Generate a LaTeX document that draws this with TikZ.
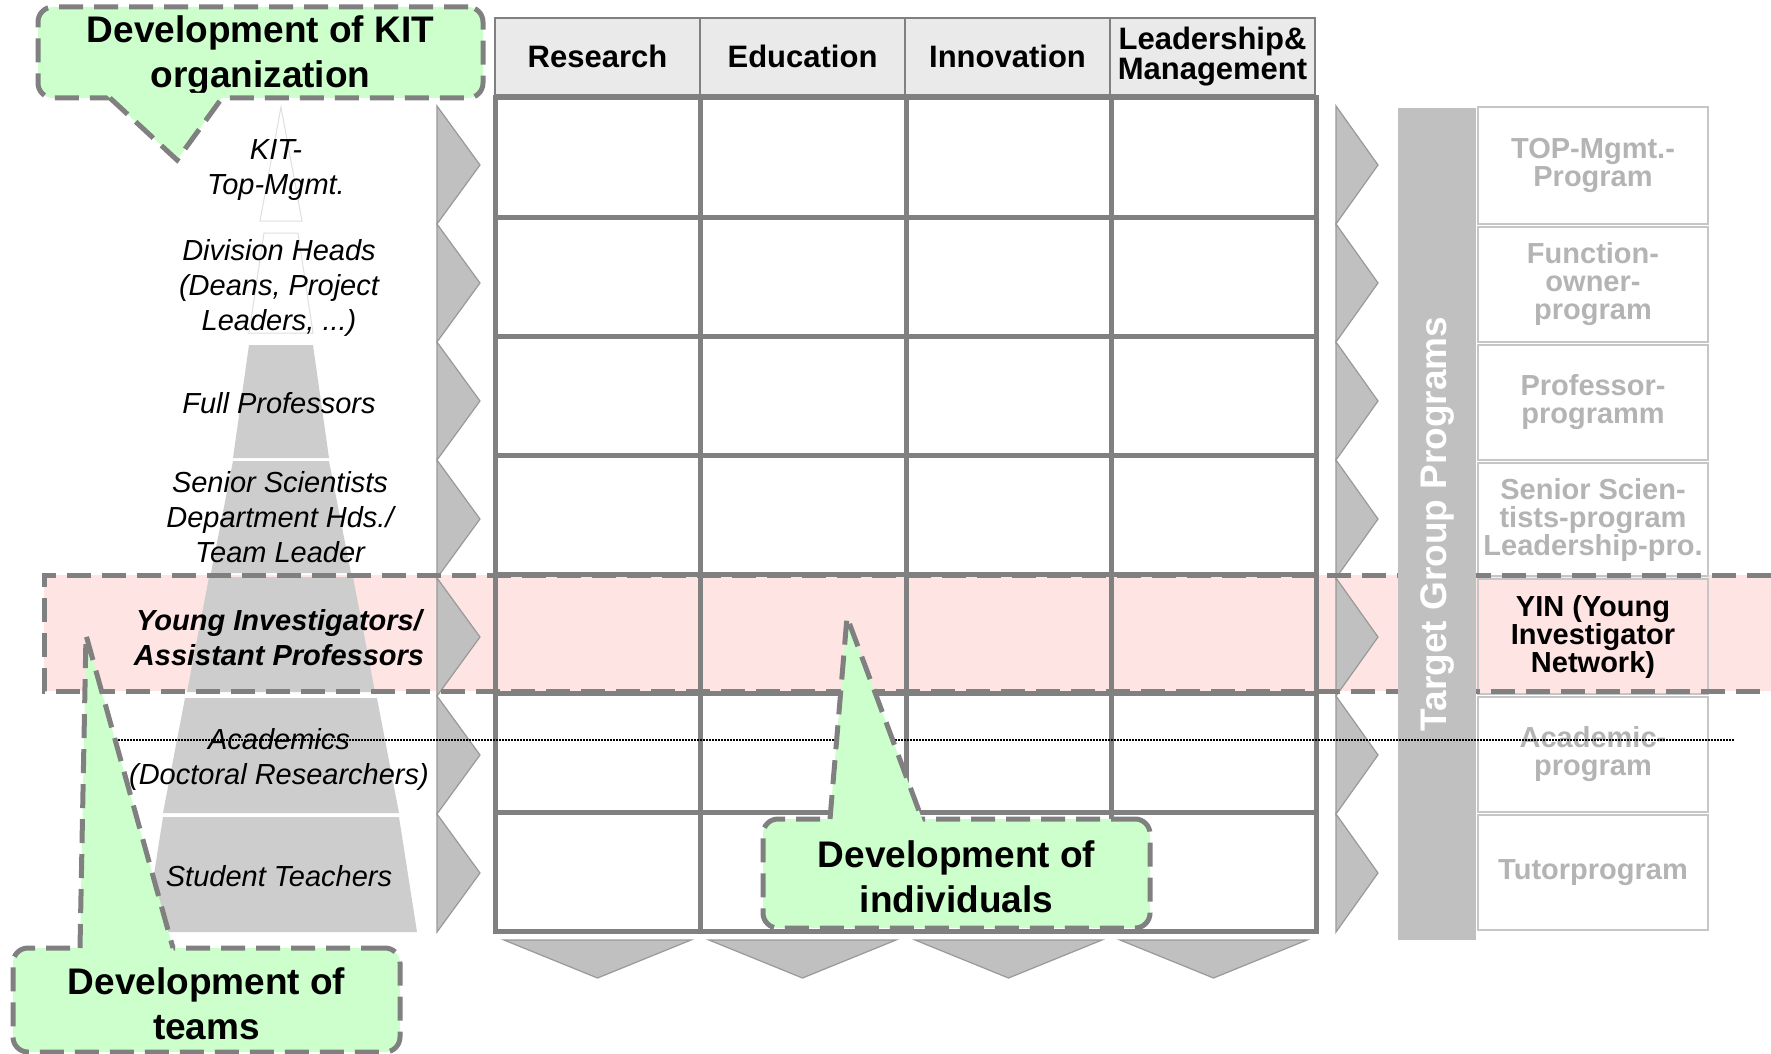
\documentclass[tikz,border=0pt]{standalone}
\usepackage{fontspec}
\setmainfont{Liberation Sans}
\usepackage{tikz}
\usetikzlibrary{positioning}

\definecolor{callgreen}{HTML}{CCFFCC}
\definecolor{bandpink}{HTML}{FFE4E4}
\definecolor{linegray}{HTML}{808080}
\definecolor{chevgray}{HTML}{C0C0C0}
\definecolor{pyrgray}{HTML}{CDCDCD}
\definecolor{progtext}{HTML}{B4B4B4}
\definecolor{headfill}{HTML}{EAEAEA}

\tikzset{
  every node/.style={inner sep=0pt, outer sep=0pt},
  gridline/.style={draw=linegray, line width=5pt},
  headcell/.style={draw=linegray, line width=1.5pt, fill=headfill,
    minimum width=205pt, minimum height=77pt, align=center,
    font=\fontsize{31}{30}\selectfont\bfseries},
  levellabel/.style={align=center, font=\fontsize{29}{35}\selectfont\itshape},
  chevtri/.style={fill=chevgray, draw=linegray!80, line width=1.2pt},
  progbox/.style={draw=gray!45, line width=2pt, fill=white,
    minimum width=230pt, minimum height=115pt, align=center, text=progtext,
    font=\fontsize{29}{28}\selectfont\bfseries},
  devbox/.style={draw=linegray, fill=callgreen, line width=5pt,
    dash pattern=on 24pt off 11pt, rounded corners=15pt, align=center,
    text depth=10pt, font=\fontsize{37}{45}\selectfont\bfseries},
  pointer/.style={draw=linegray, line width=5pt, dash pattern=on 24pt off 11pt},
  pyrtop/.style={draw=gray!25, line width=1pt, fill=white}
}

\begin{document}
\begin{tikzpicture}[x=1pt, y=-1pt]
\path [use as bounding box, fill=white] (0,0) rectangle (1771,1054);

% young investigator band
\fill [bandpink] (44,575) rectangle (1771,691);

% pyramid of levels
\draw [pyrtop] (281,107) -- (302,221) -- (260,221) -- cycle;
\draw [pyrtop] (264,233) -- (298,233) -- (313,333) -- (249,333) -- cycle;
\foreach \ya/\yb/\wa/\wb in {345/458/32/48, 461/573/48/70, 577/692/72/94, 698/813/96/118, 817/932/118/136}
  \fill [pyrgray] ({281-\wa},\ya) -- ({281+\wa},\ya) -- ({281+\wb},\yb) -- ({281-\wb},\yb) -- cycle;

\node [levellabel] (kitlvl) at (276,170) {KIT-\\Top-Mgmt.};
\node [levellabel] (divlvl) at (279,288) {Division Heads\\(Deans, Project\\Leaders, ...)};
\node [levellabel] (fulllvl) at (279,403) {Full Professors};
\node [levellabel] (seniorlvl) at (280,517) {Senior Scientists\\Department Hds./\\Team Leader};
\node [levellabel, font=\fontsize{29}{35}\selectfont\bfseries\itshape] (younglvl) at (279,638) {Young Investigators/\\Assistant Professors};
\node [levellabel] (acadlvl) at (279,759) {Academics\\(Doctoral Researchers)};
\node [levellabel] (studlvl) at (279,876) {Student Teachers};

% matrix
\foreach \r in {1,...,6}
  \draw [gridline] (495,{98+119*\r}) -- (1316,{98+119*\r});
\foreach \c in {700,906,1111}
  \draw [gridline] (\c,98) -- (\c,931);
\draw [gridline] (495,98) rectangle (1316,931);

\node [headcell] (research) at (597.5,56.5) {Research};
\node [headcell, right=0pt of research] (education) {Education};
\node [headcell, right=0pt of education] (innovation) {Innovation};
\node [headcell, right=0pt of innovation] (leadership) {Leadership\&\\Management};

% arrows
\foreach \r in {0,...,6} {
  \draw [chevtri] (437,{106+118*\r}) -- (480,{165+118*\r}) -- (437,{224+118*\r}) -- cycle;
  \draw [chevtri] (1336,{106+118*\r}) -- (1378,{165+118*\r}) -- (1336,{224+118*\r}) -- cycle;
}
\foreach \c in {495,700,906,1111}
  \draw [chevtri] ({\c+9},940) -- ({\c+196},940) -- ({\c+102.5},978) -- cycle;

% programs
\node [progbox, minimum height=117pt] (progtop) at (1593,165.5) {TOP-Mgmt.-\\Program};
\node [progbox, below=3pt of progtop] (progfunc) {Function-\\owner-\\program};
\node [progbox, below=3pt of progfunc] (progprof) {Professor-\\programm};
\node [progbox, below=3pt of progprof, minimum height=113pt] (progsenior) {Senior Scien-\\tists-program\\Leadership-pro.};
\node [progbox, below=3pt of progsenior, fill=bandpink, text=black] (progyin) {YIN (Young\\Investigator\\Network)};
\node [progbox, below=3pt of progyin] (progacad) {Academic-\\program};
\node [progbox, below=3pt of progacad] (progtutor) {Tutorprogram};

\draw [pointer] (1771,575) -- (44,575) -- (44,691) -- (1771,691);

\node [fill=chevgray, rotate=90, minimum width=832pt, minimum height=78pt, text=white,
  font=\fontsize{37}{40}\selectfont\bfseries] (targetbar) at (1437,524) {Target Group Programs};

\coordinate (dotstart) at (106,740);
\coordinate (dotend) at (1734,740);
\draw [line width=1.5pt, dash pattern=on 1.5pt off 1.5pt] (dotstart) -- (dotend);

% callouts
\node [devbox, minimum width=445pt, minimum height=89pt, text height=81pt] (kitorg) at (260.5,52.5) {Development of KIT\\organization};
\coordinate (kittip) at (177,160);
\fill [callgreen] ([xshift=-155.8pt,yshift=5pt]kitorg.south) -- ([xshift=-34.9pt,yshift=5pt]kitorg.south) -- (kittip) -- cycle;
\draw [pointer] ([xshift=-150.5pt]kitorg.south) -- (kittip) -- ([xshift=-38.5pt]kitorg.south);

\node [devbox, minimum width=387pt, minimum height=104pt, text height=88pt] (teams) at (206.5,1000) {Development of\\teams};
\coordinate (teamstip) at (86,635);
\fill [callgreen] ([xshift=-126.6pt,yshift=-5pt]teams.north) -- ([xshift=-32.1pt,yshift=-5pt]teams.north) -- (teamstip) -- cycle;
\draw [pointer] ([xshift=-126.5pt]teams.north) -- (teamstip) -- ([xshift=-33.5pt]teams.north);

\node [devbox, minimum width=387pt, minimum height=109pt, text height=88pt] (indiv) at (956.5,873.5) {Development of\\individuals};
\coordinate (indivtip) at (847,617);
\fill [callgreen] ([xshift=-126.9pt,yshift=-5pt]indiv.north) -- ([xshift=-32.6pt,yshift=-5pt]indiv.north) -- (indivtip) -- cycle;
\draw [pointer] ([xshift=-126.5pt]indiv.north) -- (indivtip) -- ([xshift=-34.5pt]indiv.north);
\end{tikzpicture}
\end{document}
